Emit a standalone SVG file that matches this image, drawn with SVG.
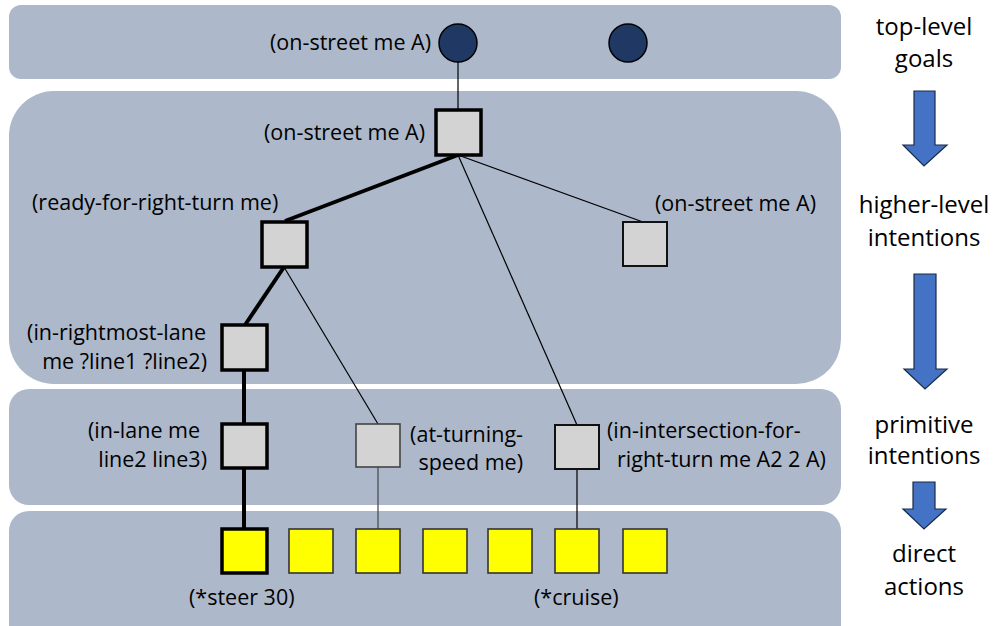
<svg xmlns="http://www.w3.org/2000/svg" width="994" height="626" viewBox="0 0 994 626">
<style>
.band{fill:#ADB8CA}
.t{font-family:"Open Sans","Liberation Sans",sans-serif;font-size:21.5px;fill:#000}
.r{font-family:"Open Sans","Liberation Sans",sans-serif;font-size:24px;fill:#000;text-anchor:middle}
.e{text-anchor:end}
.goal{fill:#1F3864;stroke:#000;stroke-width:1.5}
.sqb{fill:#D3D3D3;stroke:#000;stroke-width:3.5}
.sq{fill:#D3D3D3;stroke:#111;stroke-width:2}
.sqg{fill:#D3D3D3;stroke:#444;stroke-width:1.6}
.y{fill:#FFFF00;stroke:#333;stroke-width:1.6}
.yb{fill:#FFFF00;stroke:#000;stroke-width:3.5}
.thick{stroke:#000;stroke-width:4;fill:none}
.thin{stroke:#000;stroke-width:1.2;fill:none}
.thing{stroke:#444;stroke-width:1.2;fill:none}
.arr{fill:#4472C4;stroke:#1a2a4a;stroke-width:1.2}
</style>
<g id="bands">
<rect class="band" x="9" y="5" width="832" height="74" rx="12"/>
<rect class="band" x="9" y="91" width="832" height="293" rx="45"/>
<rect class="band" x="9" y="389" width="832" height="116" rx="20"/>
<rect class="band" x="9" y="511" width="832" height="135" rx="20"/>
</g>
<g id="connectors">
<line class="thin" x1="458" y1="62" x2="458" y2="110"/>
<line class="thick" x1="458" y1="155" x2="285" y2="221"/>
<line class="thin" x1="458" y1="155" x2="643" y2="222"/>
<line class="thin" x1="458" y1="155" x2="577" y2="425"/>
<line class="thick" x1="284" y1="267" x2="245" y2="325"/>
<line class="thin" x1="284" y1="267" x2="378" y2="424"/>
<line class="thick" x1="244" y1="370" x2="244" y2="424"/>
<line class="thick" x1="244" y1="468" x2="244" y2="529"/>
<line class="thing" x1="378" y1="467" x2="378" y2="529"/>
<line class="thin" x1="577" y1="469" x2="577" y2="529"/>
</g>
<g id="goal1">
<circle class="goal" cx="458" cy="43" r="19"/>
<text class="t e" x="431" y="50">(on-street me A)</text>
</g>
<g id="goal2">
<circle class="goal" cx="628" cy="43" r="19"/>
</g>
<g id="int-onstreet">
<rect class="sqb" x="436" y="110" width="45" height="45"/>
<text class="t e" x="425" y="140">(on-street me A)</text>
</g>
<g id="int-ready">
<rect class="sqb" x="262" y="222" width="45" height="45"/>
<text class="t" x="32" y="210">(ready-for-right-turn me)</text>
</g>
<g id="int-onstreet2">
<rect class="sq" x="623" y="222" width="44" height="44"/>
<text class="t" x="655" y="211">(on-street me A)</text>
</g>
<g id="int-rightmost">
<rect class="sqb" x="222" y="325" width="45" height="45"/>
<text class="t e" x="206" y="340">(in-rightmost-lane</text>
<text class="t e" x="207" y="369">me ?line1 ?line2)</text>
</g>
<g id="prim-inlane">
<rect class="sqb" x="222" y="424" width="45" height="44"/>
<text class="t" x="88" y="438">(in-lane me</text>
<text class="t e" x="207" y="467">line2 line3)</text>
</g>
<g id="prim-turning">
<rect class="sqg" x="356" y="424" width="44" height="43"/>
<text class="t e" x="523" y="442">(at-turning-</text>
<text class="t e" x="523" y="470">speed me)</text>
</g>
<g id="prim-intersection">
<rect class="sq" x="555" y="425" width="44" height="44"/>
<text class="t" x="607" y="438">(in-intersection-for-</text>
<text class="t" x="617" y="467">right-turn me A2 2 A)</text>
</g>
<g id="act-steer">
<rect class="yb" x="222" y="529" width="45" height="44"/>
<text class="t" x="189" y="605">(*steer 30)</text>
</g>
<g id="act2"><rect class="y" x="289" y="529" width="44" height="44"/></g>
<g id="act3"><rect class="y" x="356" y="529" width="44" height="44"/></g>
<g id="act4"><rect class="y" x="423" y="529" width="44" height="44"/></g>
<g id="act5"><rect class="y" x="488" y="529" width="44" height="44"/></g>
<g id="act-cruise">
<rect class="y" x="555" y="529" width="44" height="44"/>
<text class="t" x="534" y="605">(*cruise)</text>
</g>
<g id="act7"><rect class="y" x="623" y="529" width="44" height="44"/></g>
<g id="levels">
<text class="r" x="924" y="35">top-level</text>
<text class="r" x="924" y="67">goals</text>
<text class="r" x="924" y="213">higher-level</text>
<text class="r" x="924" y="246">intentions</text>
<text class="r" x="924" y="433">primitive</text>
<text class="r" x="924" y="464">intentions</text>
<text class="r" x="924" y="562">direct</text>
<text class="r" x="924" y="595">actions</text>
<path class="arr" d="M914,91 H935 V145 H947 L924,166 L903,145 H914 Z"/>
<path class="arr" d="M914,274 H936 V369 H947 L925,389 L904,369 H914 Z"/>
<path class="arr" d="M913,482 H935 V509 H946 L924,529 L903,509 H913 Z"/>
</g>
</svg>
